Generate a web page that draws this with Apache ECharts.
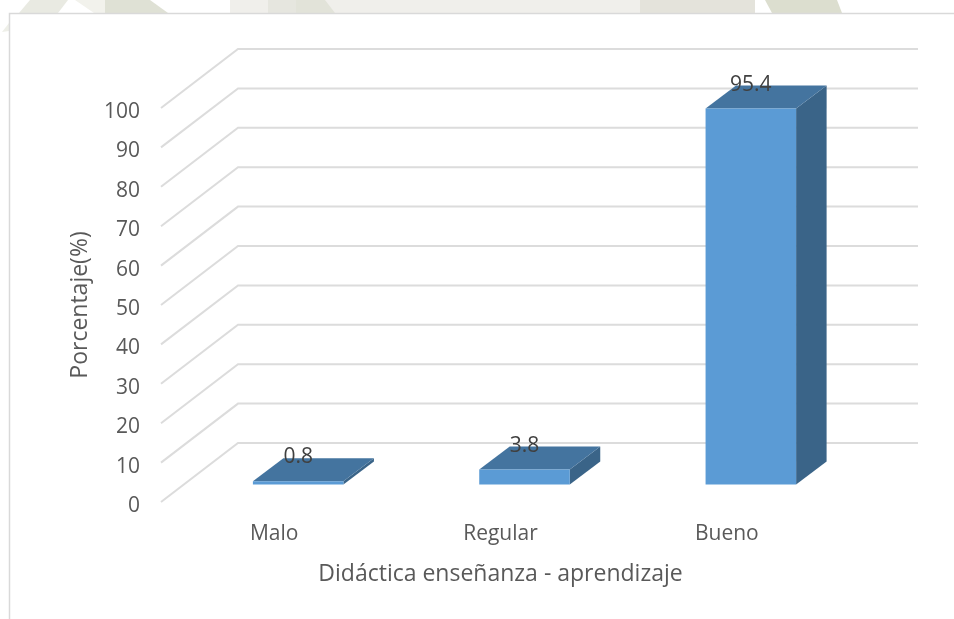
<!DOCTYPE html>
<html>
<head>
<meta charset="utf-8">
<style>html,body{margin:0;padding:0;background:#fff}#c{width:954px;height:619px}</style>
<script src="https://cdn.jsdelivr.net/npm/echarts@6/dist/echarts.min.js"></script>
</head>
<body>
<div id="c"></div>
<script>
const categories = ['Malo', 'Regular', 'Bueno'];
const values = [0.8, 3.8, 95.4];
const yTicks = [0, 10, 20, 30, 40, 50, 60, 70, 80, 90, 100];
const xTitle = 'Didáctica enseñanza - aprendizaje';
const yTitle = 'Porcentaje(%)';

const FONT = '"Open Sans", sans-serif';
const WALL = [77, -59];       // floor depth offset
const BAR_IN = [24, -17.5];   // bar front face offset from the front plane
const BAR_D = [30.5, -23];    // bar depth
const BAR_RATIO = 0.4;

const chart = echarts.init(document.getElementById('c'), null, {renderer: 'canvas'});

function wallLine(params, api) {
  const p = api.coord([0, api.value(1)]);
  const cs = params.coordSys;
  return {
    type: 'polyline', silent: true,
    shape: {points: [[cs.x, p[1]], [cs.x + WALL[0], p[1] + WALL[1]], [cs.x + cs.width + WALL[0] + 1, p[1] + WALL[1]]]},
    style: {stroke: '#DCDCDC', lineWidth: 2, fill: null}
  };
}

function bar3d(params, api) {
  const idx = api.value(0), val = api.value(1);
  const top = api.coord([idx, val]);
  const base = api.coord([idx, 0]);
  const w = api.size([1, 0])[0] * BAR_RATIO;
  const l = top[0] - w / 2 + BAR_IN[0], r = l + w;
  const yT = top[1] + BAR_IN[1], yB = base[1] + BAR_IN[1];
  const dx = BAR_D[0], dy = BAR_D[1];
  return {
    type: 'group', silent: true,
    children: [
      {type: 'polygon', shape: {points: [[r, yT], [r + dx, yT + dy], [r + dx, yB + dy], [r, yB]]}, style: {fill: '#3A6488'}},
      {type: 'polygon', shape: {points: [[l, yT], [l + dx, yT + dy], [r + dx, yT + dy], [r, yT]]}, style: {fill: '#44749F'}},
      {type: 'rect', shape: {x: l, y: yT, width: w, height: yB - yT}, style: {fill: '#5B9BD5'}},
      {type: 'text', z2: 10, style: {
        text: String(val), x: l + w / 2, y: yT + dy - 1, align: 'center', verticalAlign: 'middle',
        fill: '#404040', font: '21px ' + FONT
      }}
    ]
  };
}

const watermark = [
  {pts: [[30,0],[68,0],[58,13],[19,13]], c: '#E9EAE2'},
  {pts: [[75,0],[105,0],[105,13],[94,13]], c: '#F2F2EC'},
  {pts: [[105,0],[150,0],[168,13],[105,13]], c: '#DFE1D5'},
  {pts: [[2,32],[9,23],[9,31]], c: '#EEEFE8'},
  {pts: [[230,0],[640,0],[640,13],[230,13]], c: '#F0EFEB'},
  {pts: [[268,0],[296,0],[296,13],[268,13]], c: '#E6E6DF'},
  {pts: [[296,0],[325,0],[335,13],[296,13]], c: '#E2E3D9'},
  {pts: [[640,0],[755,0],[755,13],[640,13]], c: '#E4E3DB'},
  {pts: [[765,0],[837,0],[842,13],[772,13]], c: '#DCDECF'}
];

chart.setOption({
  animation: false,
  backgroundColor: '#fff',
  grid: {left: 161, top: 108, width: 679, height: 394, containLabel: false},
  xAxis: {
    type: 'category', data: categories,
    axisLine: {show: false}, axisTick: {show: false}, splitLine: {show: false},
    axisLabel: {color: '#595959', fontFamily: FONT, fontSize: 21, margin: 22},
    name: xTitle, nameLocation: 'middle', nameGap: 61,
    nameTextStyle: {color: '#595959', fontFamily: FONT, fontSize: 23}
  },
  yAxis: {
    type: 'value', min: 0, max: 100, interval: 10,
    axisLine: {show: false}, axisTick: {show: false}, splitLine: {show: false},
    axisLabel: {
      color: '#595959', fontFamily: FONT, fontSize: 21, margin: 21,
      formatter: '{a|{value}}',
      rich: {a: {color: '#595959', fontFamily: FONT, fontSize: 21, padding: [8, 0, 0, 0]}}
    },
    name: yTitle, nameLocation: 'middle', nameGap: 69, nameRotate: 90,
    nameTextStyle: {color: '#595959', fontFamily: FONT, fontSize: 23}
  },
  graphic: {elements: [
    ...watermark.map(w => ({type: 'polygon', silent: true, shape: {points: w.pts}, style: {fill: w.c}})),
    {type: 'polyline', silent: true, shape: {points: [[9.5, 619], [9.5, 13.5], [954, 13.5]]}, style: {stroke: '#D9D9D9', lineWidth: 1.5, fill: null}}
  ]},
  series: [
    {type: 'custom', renderItem: wallLine, data: yTicks.map(v => [0, v]), encode: {x: 0, y: 1}, z: 1, silent: true},
    {type: 'custom', renderItem: bar3d, data: values.map((v, i) => [i, v]), encode: {x: 0, y: 1}, z: 2, silent: true}
  ]
});
</script>
</body>
</html>
